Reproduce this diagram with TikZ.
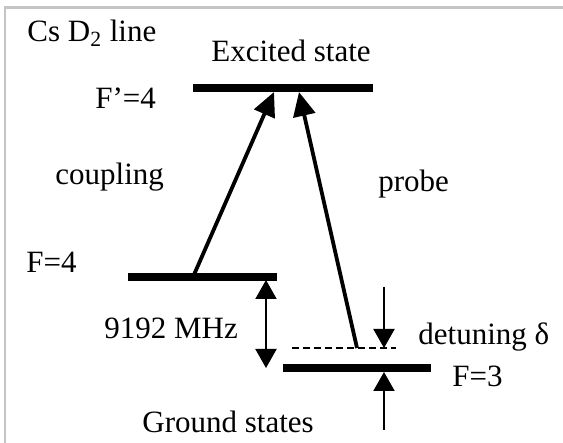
\documentclass[tikz,border=0pt]{standalone}
\usepackage{fontspec}
\setmainfont{Liberation Serif}
\usepackage{tikz}
\usetikzlibrary{arrows.meta}
\definecolor{frame}{HTML}{C4C4C4}

\begin{document}
\begin{tikzpicture}[
  x=0.5pt, y=-0.5pt,
  font=\fontsize{15.5}{18}\selectfont,
  lbl/.style={anchor=base west, inner sep=0pt},
  level/.style={draw=black, line width=3.6pt},
  beam/.style={draw=black, line width=1.9pt, -{Triangle[length=12pt,width=11pt]}},
  gap/.style={draw=black, line width=1pt, -{Triangle[length=9.5pt,width=10.5pt]}},
  gapboth/.style={gap, {Triangle[length=9.5pt,width=10.5pt]}-{Triangle[length=9.5pt,width=10.5pt]}},
  virtual/.style={draw=black, line width=0.8pt, dash pattern=on 3.5pt off 2pt}
]
\useasboundingbox (0,0) rectangle (563,443);
% frame
\draw[frame, line width=1.2pt] (5,443) -- (5,7.5) -- (563,7.5);

% labels
\node[lbl] (title) at (27,42) {Cs D\textsubscript{2} line};
\node[lbl] (exc) at (211,62) {Excited state};
\node[lbl] (fp4) at (95,109) {F’=4};
\node[lbl] (cpl) at (55,185) {coupling};
\node[lbl] (prb) at (378,192) {probe};
\node[lbl] (f4) at (26,273) {F=4};
\node[lbl] (hfs) at (104,339) {9192 MHz};
\node[lbl] (det) at (418,345) {detuning δ};
\node[lbl] (f3) at (452,387) {F=3};
\node[lbl] (gnd) at (142,433) {Ground states};

% levels
\coordinate (excL) at (193,88);  \coordinate (excR) at (373,88);
\coordinate (g4L)  at (128,277); \coordinate (g4R)  at (277,277);
\coordinate (g3L)  at (283,368); \coordinate (g3R)  at (431,368);
\coordinate (virL) at (292,348); \coordinate (virR) at (396,348);
\draw[level] (excL) -- (excR);
\draw[level] (g4L) -- (g4R);
\draw[level] (g3L) -- (g3R);
\draw[virtual] (virL) -- (virR);

% transitions
\coordinate (cplA) at (193,277); \coordinate (cplB) at (274,92);
\coordinate (prbA) at (357,348); \coordinate (prbB) at (299,92);
\draw[beam] (cplA) -- (cplB);
\draw[beam] (prbA) -- (prbB);

% splitting and detuning
\coordinate (hfsA) at (266,280); \coordinate (hfsB) at (266,368);
\draw[gapboth] (hfsA) -- (hfsB);
\coordinate (detA) at (384,287); \coordinate (detB) at (384,348);
\coordinate (detC) at (384,430); \coordinate (detD) at (384,372);
\draw[gap] (detA) -- (detB);
\draw[gap] (detC) -- (detD);
\end{tikzpicture}
\end{document}
